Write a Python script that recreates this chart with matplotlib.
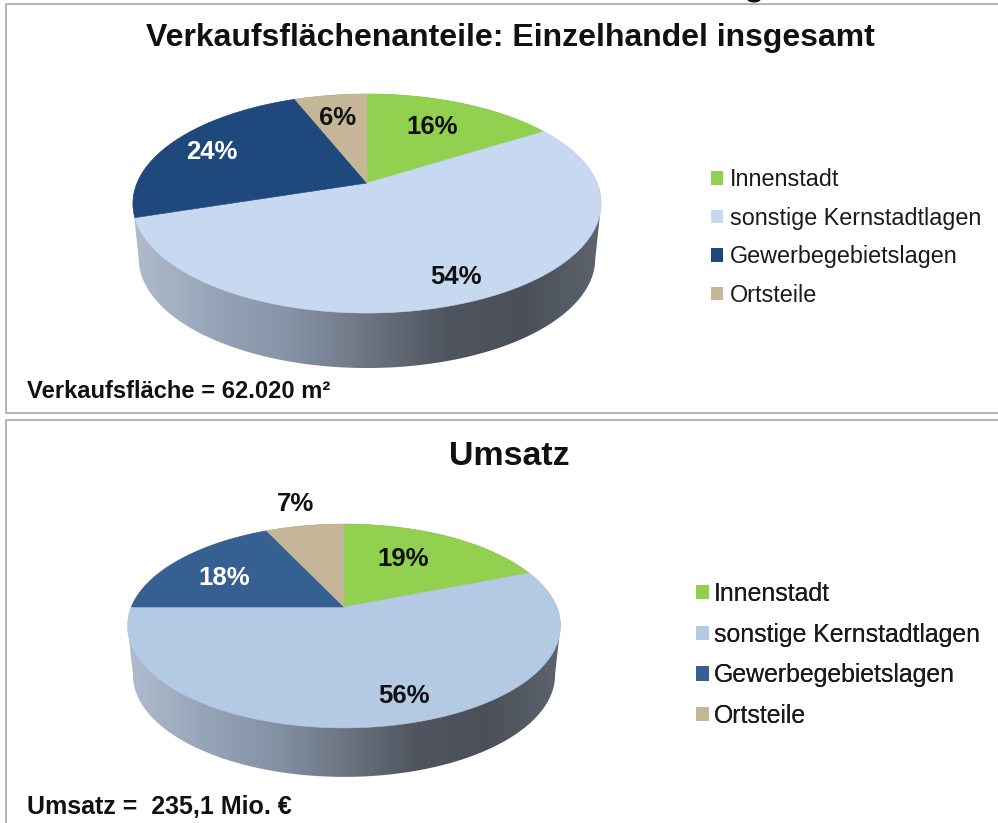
import numpy as np
import matplotlib
matplotlib.use('Agg')
import matplotlib.pyplot as plt
from matplotlib.colors import LinearSegmentedColormap
from matplotlib.patches import Patch, Rectangle, Polygon, Ellipse

plt.rcParams['font.family'] = ['Liberation Sans', 'DejaVu Sans']

categories = ['Innenstadt', 'sonstige Kernstadtlagen', 'Gewerbegebietslagen', 'Ortsteile']
flaeche_shares = [16, 54, 24, 6]
umsatz_shares = [19, 56, 18, 7]

flaeche_colors = ['#92d050', '#c6d9f1', '#1f497d', '#c4b696']
umsatz_colors = ['#92d050', '#b3c9e4', '#366092', '#c4b696']
label_colors = ['#111111', '#111111', 'white', '#111111']

side_cmap = LinearSegmentedColormap.from_list('side', ['#b0bccd', '#98a5b8', '#8593a6', '#6d7582', '#50555f', '#4a4f58', '#5e646e'])

fig = plt.figure(figsize=(9.98, 8.23), dpi=100)
ax = fig.add_axes([0, 0, 1, 1])
ax.set_xlim(0, 998)
ax.set_ylim(823, 0)
ax.axis('off')


def project(u, v, geo):
    # disc coordinates to picture, the pie is seen in perspective
    s = 1 / (1 + geo['k'] * v)
    return geo['cx'] + geo['a'] * u * s, geo['cy'] - geo['b'] * v * s


def draw_pie(shares, colors, geo):
    t = np.linspace(0, 2 * np.pi, 721)
    x, y = project(np.sin(t), np.cos(t), geo)

    # side wall: lower arc of the shifted rim, upper arc of the top rim
    xb = geo['cx'] + (x - geo['cx']) * geo['shrink']
    yb = y + geo['depth']
    right, left = np.argmax(x), np.argmin(x)
    outline = np.vstack([np.c_[xb[right:left + 1], yb[right:left + 1]],
                         np.c_[x[left:], y[left:]],
                         np.c_[x[:right + 1], y[:right + 1]]])
    wall = Polygon(outline, closed=True, fc='none', ec='none')
    ax.add_patch(wall)
    grad = ax.imshow(np.linspace(0, 1, 256).reshape(1, -1), cmap=side_cmap, aspect='auto',
                     extent=[x.min(), x.max(), yb.max(), y.min()], zorder=1)
    grad.set_clip_path(wall)
    ax.set_xlim(0, 998)
    ax.set_ylim(823, 0)

    start = 0
    for share, color in zip(shares, colors):
        end = start + share
        ang = np.linspace(start, end, 200) / sum(shares) * 2 * np.pi
        wx, wy = project(np.sin(ang), np.cos(ang), geo)
        ax.fill(np.r_[geo['cx'], wx], np.r_[geo['cy'], wy], fc=color, ec=color, lw=0.4, zorder=2)
        start = end


def draw_legend(colors, anchor, size, spacing, pad):
    handles = [Patch(fc=c, ec='none') for c in colors]
    leg = ax.legend(handles, categories, loc='upper left', bbox_to_anchor=anchor,
                    bbox_transform=ax.transData, frameon=False, fontsize=size,
                    labelspacing=spacing, handlelength=0.52, handleheight=0.52,
                    handletextpad=pad, borderpad=0, borderaxespad=0, labelcolor='#1a1a1a')
    ax.add_artist(leg)


top_geo = dict(cx=367, cy=183, a=230, b=105.7, k=0.187, depth=55, shrink=0.975)
bot_geo = dict(cx=344, cy=607, a=212.7, b=98.4, k=0.186, depth=49, shrink=0.975)

# both frames run off the right edge of the picture
ax.add_patch(Rectangle((6, 4), 1010, 409, fc='white', ec='#b0b0b0', lw=1.3, zorder=0))
ax.add_patch(Rectangle((6, 420), 1010, 420, fc='white', ec='#b0b0b0', lw=1.3, zorder=0))
# bottom of a letter from the cut off line above the picture
ax.add_patch(Ellipse((754, -1), 14, 7, fc='#111111', ec='none', zorder=1))

draw_pie(flaeche_shares, flaeche_colors, top_geo)
draw_pie(umsatz_shares, umsatz_colors, bot_geo)

ax.text(510, 38, 'Verkaufsflächenanteile: Einzelhandel insgesamt', ha='center', va='center',
        fontsize=23, fontweight='bold', color='#111111')
ax.text(509, 456, 'Umsatz', ha='center', va='center', fontsize=24.5, fontweight='bold', color='#111111')

flaeche_label_xy = [(432, 127), (456, 277), (212, 152), (338, 118)]
umsatz_label_xy = [(403, 559), (404, 696), (224, 578), (296, 504)]
for share, xy, c in zip(flaeche_shares, flaeche_label_xy, label_colors):
    ax.text(xy[0], xy[1], f'{share}%', ha='center', va='center', fontsize=18.5, fontweight='bold', color=c, zorder=3)
for share, xy, c in zip(umsatz_shares, umsatz_label_xy, label_colors):
    ax.text(xy[0], xy[1], f'{share}%', ha='center', va='center', fontsize=18.5, fontweight='bold', color=c, zorder=3)

draw_legend(flaeche_colors, (711, 168), 16.8, 0.67, 0.3)
draw_legend(umsatz_colors, (696, 582), 17.9, 0.67, 0.2)

ax.text(27, 391, 'Verkaufsfläche = 62.020 m²', ha='left', va='center', fontsize=17.1, fontweight='bold', color='#111111')
ax.text(27, 807, 'Umsatz =  235,1 Mio. €', ha='left', va='center', fontsize=18, fontweight='bold', color='#111111')

fig.savefig('out.png', dpi=100)
